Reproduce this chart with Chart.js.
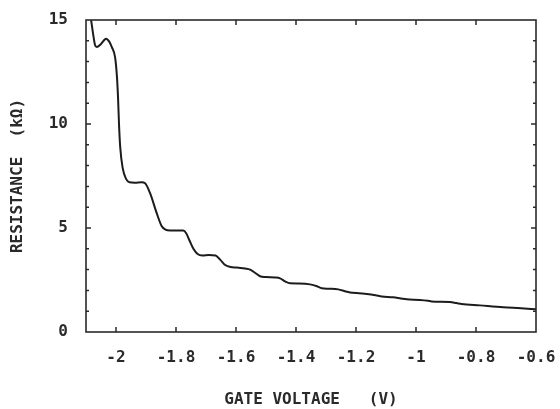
<!DOCTYPE html>
<html>
<head>
<meta charset="utf-8">
<script src="https://cdn.jsdelivr.net/npm/chart.js@4"></script>
<style>
  html, body { margin: 0; padding: 0; background: #ffffff; }
  #wrap { width: 560px; height: 409px; }
</style>
</head>
<body>
<div id="wrap"><canvas id="c" width="560" height="409"></canvas></div>
<script>
// ---- data ----
const volts = [-2.083, -2.076, -2.070, -2.064, -2.050, -2.033, -2.022, -2.014, -2.003, -1.997, -1.993, -1.990, -1.986, -1.978, -1.966, -1.955, -1.937, -1.915, -1.903, -1.887, -1.864, -1.848, -1.835, -1.820, -1.776, -1.766, -1.755, -1.742, -1.728, -1.712, -1.690, -1.668, -1.653, -1.636, -1.618, -1.598, -1.570, -1.553, -1.537, -1.520, -1.500, -1.470, -1.453, -1.435, -1.420, -1.390, -1.353, -1.330, -1.314, -1.290, -1.259, -1.235, -1.220, -1.190, -1.164, -1.135, -1.114, -1.076, -1.050, -1.031, -0.987, -0.960, -0.948, -0.887, -0.865, -0.848, -0.787, -0.709, -0.650, -0.600];
const resist = [15.0, 14.3, 13.8, 13.7, 13.85, 14.1, 13.95, 13.7, 13.2, 12.3, 11.2, 10.0, 8.9, 7.9, 7.35, 7.2, 7.18, 7.2, 7.15, 6.7, 5.7, 5.1, 4.92, 4.88, 4.88, 4.75, 4.4, 4.0, 3.75, 3.68, 3.7, 3.68, 3.48, 3.22, 3.12, 3.1, 3.05, 3.0, 2.85, 2.68, 2.64, 2.62, 2.58, 2.42, 2.34, 2.33, 2.29, 2.2, 2.1, 2.08, 2.05, 1.95, 1.9, 1.86, 1.83, 1.77, 1.71, 1.67, 1.61, 1.57, 1.54, 1.5, 1.47, 1.44, 1.39, 1.35, 1.28, 1.19, 1.14, 1.09];
const xTicks = [-2, -1.8, -1.6, -1.4, -1.2, -1, -0.8, -0.6];
const yTicks = [0, 5, 10, 15];
const yMinorTicks = [1, 2, 3, 4, 6, 7, 8, 9, 11, 12, 13, 14];
const xTitle = 'GATE VOLTAGE   (V)';
const yTitle = 'RESISTANCE  (k\u03A9)';

const INK = '#2a2a2a';
const FONT = "'DejaVu Sans Mono', 'Liberation Mono', monospace";

const points = volts.map((v, i) => ({ x: v, y: resist[i] }));

const frameTicks = {
  id: 'frameTicks',
  afterDatasetsDraw(chart) {
    const { ctx, chartArea: a, scales } = chart;
    const xs = scales.x, ys = scales.y;
    ctx.save();
    ctx.strokeStyle = INK;
    ctx.lineWidth = 1.6;
    ctx.strokeRect(a.left, a.top, a.right - a.left, a.bottom - a.top);
    ctx.lineWidth = 1.5;
    ctx.beginPath();
    xTicks.forEach(v => {
      const px = xs.getPixelForValue(v);
      if (px <= a.left + 1 || px >= a.right - 1) return;
      ctx.moveTo(px, a.bottom); ctx.lineTo(px, a.bottom - 5);
      ctx.moveTo(px, a.top); ctx.lineTo(px, a.top + 5);
    });
    yTicks.forEach(v => {
      const py = ys.getPixelForValue(v);
      if (py <= a.top + 1 || py >= a.bottom - 1) return;
      ctx.moveTo(a.left, py); ctx.lineTo(a.left + 5, py);
      ctx.moveTo(a.right, py); ctx.lineTo(a.right - 5, py);
    });
    yMinorTicks.forEach(v => {
      const py = ys.getPixelForValue(v);
      ctx.moveTo(a.left, py); ctx.lineTo(a.left + 3, py);
      ctx.moveTo(a.right, py); ctx.lineTo(a.right - 3, py);
    });
    ctx.stroke();
    ctx.restore();
  }
};

new Chart(document.getElementById('c'), {
  type: 'line',
  data: {
    datasets: [{
      data: points,
      borderColor: '#1c1c1c',
      borderWidth: 2,
      pointRadius: 0,
      fill: false,
      cubicInterpolationMode: 'monotone'
    }]
  },
  options: {
    responsive: false,
    devicePixelRatio: 1,
    animation: false,
    layout: { padding: { left: 0, top: 20, right: 24, bottom: 0 } },
    plugins: { legend: { display: false }, tooltip: { enabled: false } },
    scales: {
      x: {
        type: 'linear',
        min: -2.1,
        max: -0.6,
        afterBuildTicks: s => { s.ticks = xTicks.map(v => ({ value: v })); },
        afterFit: s => { s.height = 77; s.paddingLeft = 0; s.paddingRight = 0; },
        grid: { display: false },
        border: { display: false },
        ticks: {
          autoSkip: false,
          maxRotation: 0,
          padding: 8,
          color: INK,
          font: { family: FONT, size: 16, weight: 'bold' },
          callback: v => String(v)
        },
        title: {
          display: true,
          text: xTitle,
          color: INK,
          font: { family: FONT, size: 16, weight: 'bold' },
          padding: { top: 0, bottom: 0 }
        }
      },
      y: {
        type: 'linear',
        min: 0,
        max: 15,
        afterBuildTicks: s => { s.ticks = yTicks.map(v => ({ value: v })); },
        afterFit: s => { s.width = 86; s.paddingTop = 0; s.paddingBottom = 0; },
        grid: { display: false },
        border: { display: false },
        ticks: {
          padding: 10,
          color: INK,
          font: { family: FONT, size: 16, weight: 'bold' },
          callback: v => String(v)
        },
        title: {
          display: true,
          text: yTitle,
          color: INK,
          font: { family: FONT, size: 16, weight: 'bold' },
          padding: { top: 8, bottom: 0 }
        }
      }
    }
  },
  plugins: [frameTicks]
});
</script>
</body>
</html>
